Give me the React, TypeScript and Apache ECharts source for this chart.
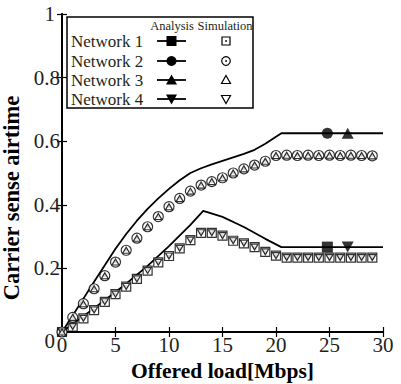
import React, { useEffect, useRef } from 'react';
import * as echarts from 'echarts';

// Offered load (Mbps) of simulation points
const simLoad = [0, 1, 2, 3, 4, 5, 6, 7, 8, 9, 10, 11, 12, 13, 14, 15, 16, 17, 18, 19, 20, 21, 22, 23, 24, 25, 26, 27, 28, 29];

// Simulation: networks 2 & 3 (upper) and networks 1 & 4 (lower)
const net2Sim = [0, 0.046, 0.089, 0.136, 0.177, 0.22, 0.257, 0.295, 0.331, 0.363, 0.394, 0.42, 0.443, 0.462, 0.473, 0.485, 0.5, 0.513, 0.525, 0.537, 0.555, 0.556, 0.555, 0.556, 0.555, 0.556, 0.555, 0.556, 0.555, 0.554];
const net3Sim = [0, 0.046, 0.089, 0.136, 0.177, 0.22, 0.257, 0.295, 0.331, 0.363, 0.394, 0.42, 0.443, 0.462, 0.473, 0.485, 0.5, 0.513, 0.525, 0.537, 0.555, 0.556, 0.555, 0.556, 0.555, 0.556, 0.555, 0.556, 0.555, 0.554];
const net1Sim = [0, 0.017, 0.043, 0.069, 0.095, 0.119, 0.143, 0.167, 0.193, 0.219, 0.239, 0.263, 0.289, 0.312, 0.312, 0.303, 0.287, 0.279, 0.267, 0.252, 0.24, 0.234, 0.234, 0.234, 0.234, 0.234, 0.234, 0.234, 0.234, 0.234];
const net4Sim = [0, 0.017, 0.043, 0.069, 0.095, 0.119, 0.143, 0.167, 0.193, 0.219, 0.239, 0.263, 0.289, 0.312, 0.312, 0.303, 0.287, 0.279, 0.267, 0.252, 0.24, 0.234, 0.234, 0.234, 0.234, 0.234, 0.234, 0.234, 0.234, 0.234];

// Analysis curves
const upperLoad = [0, 1, 2, 3, 4, 5, 6, 7, 8, 9, 10, 11, 12, 13, 14, 15, 16, 17, 18, 19, 20.5, 30];
const upperAnalysis = [0, 0.052, 0.105, 0.158, 0.21, 0.262, 0.308, 0.35, 0.387, 0.42, 0.45, 0.477, 0.5, 0.515, 0.527, 0.538, 0.549, 0.56, 0.573, 0.592, 0.625, 0.625];
const lowerLoad = [0, 2, 4, 6, 8, 10, 12, 13.2, 15, 17, 19, 20.5, 30];
const lowerAnalysis = [0, 0.05, 0.1, 0.152, 0.208, 0.27, 0.337, 0.381, 0.362, 0.33, 0.293, 0.267, 0.267];

// Single analysis markers placed on the curves
const net1Mark = [24.8, 0.267];
const net2Mark = [24.8, 0.625];
const net3Mark = [26.7, 0.625];
const net4Mark = [26.7, 0.267];

const networkNames = ['Network 1', 'Network 2', 'Network 3', 'Network 4'];

const FONT = '"Liberation Serif", "Times New Roman", Times, serif';
const TXT = '#231f20';

const SQ_DOT = 'path://M0,0H10V10H0ZM4.2,4.2H5.8V5.8H4.2Z';
const CI_DOT = 'path://M10,5A5,5,0,1,1,0,5A5,5,0,1,1,10,5ZM5.8,5A0.8,0.8,0,1,1,4.2,5A0.8,0.8,0,1,1,5.8,5Z';
const TRI_UP = 'path://M5,0L10,9L0,9Z';
const TRI_DN = 'path://M0,0L10,0L5,9Z';

const pairs = (xs: number[], ys: number[]) => xs.map((x, i) => [x, ys[i]]);

function legendGraphic() {
  const rows = [41, 61, 80, 99];
  const children: any[] = [
    { type: 'rect', shape: { x: 67, y: 17, width: 186, height: 91 }, style: { fill: '#fff', stroke: '#000', lineWidth: 1.5 } },
    { type: 'text', x: 172, y: 26, style: { text: 'Analysis', fontFamily: FONT, fontSize: 12.5, fill: TXT, align: 'center', verticalAlign: 'middle' } },
    { type: 'text', x: 225, y: 26, style: { text: 'Simulation', fontFamily: FONT, fontSize: 12.5, fill: TXT, align: 'center', verticalAlign: 'middle' } },
  ];
  const ax = 171.5;
  const sx = 226;
  rows.forEach((y, i) => {
    children.push({ type: 'text', x: 71, y, style: { text: networkNames[i], fontFamily: FONT, fontSize: 17, fill: TXT, align: 'left', verticalAlign: 'middle' } });
    children.push({ type: 'line', shape: { x1: 157, y1: y, x2: 186, y2: y }, style: { stroke: '#000', lineWidth: 1.8 } });
    const fill = { fill: '#000' };
    const hollow = { fill: '#fff', stroke: '#000', lineWidth: 1.2 };
    if (i === 0) {
      children.push({ type: 'rect', shape: { x: ax - 5, y: y - 5, width: 10, height: 10 }, style: fill });
      children.push({ type: 'rect', shape: { x: sx - 4, y: y - 4, width: 8, height: 8 }, style: hollow });
      children.push({ type: 'circle', shape: { cx: sx, cy: y, r: 0.9 }, style: fill });
    } else if (i === 1) {
      children.push({ type: 'circle', shape: { cx: ax, cy: y, r: 5 }, style: fill });
      children.push({ type: 'circle', shape: { cx: sx, cy: y, r: 4.3 }, style: hollow });
      children.push({ type: 'circle', shape: { cx: sx, cy: y, r: 0.9 }, style: fill });
    } else if (i === 2) {
      children.push({ type: 'polygon', shape: { points: [[ax, y - 5.5], [ax + 5.5, y + 4.5], [ax - 5.5, y + 4.5]] }, style: fill });
      children.push({ type: 'polygon', shape: { points: [[sx, y - 4.5], [sx + 4.5, y + 3.5], [sx - 4.5, y + 3.5]] }, style: hollow });
    } else {
      children.push({ type: 'polygon', shape: { points: [[ax - 5.5, y - 4.5], [ax + 5.5, y - 4.5], [ax, y + 5.5]] }, style: fill });
      children.push({ type: 'polygon', shape: { points: [[sx - 4.5, y - 3.5], [sx + 4.5, y - 3.5], [sx, y + 4.5]] }, style: hollow });
    }
  });
  return [{ type: 'group', children }];
}

export default function App() {
  const ref = useRef<HTMLDivElement>(null);
  useEffect(() => {
    const chart = echarts.init(ref.current!, null, { renderer: 'svg' });
    const axisCommon = {
      type: 'value' as const,
      axisLine: { show: true, lineStyle: { color: '#000', width: 2 } },
      axisTick: { show: true, inside: true, length: 5, lineStyle: { color: '#000', width: 1.2 } },
      splitLine: { show: false },
    };
    const hollow = { color: '#fff', borderColor: '#000', borderWidth: 1.2 };
    const option: any = {
      animation: false,
      backgroundColor: '#fff',
      textStyle: { fontFamily: FONT },
      grid: { left: 62, right: 18, top: 14, bottom: 52, containLabel: false, outerBoundsMode: 'none' },
      xAxis: [
        {
          ...axisCommon,
          min: 0, max: 30, interval: 5,
          position: 'bottom',
          name: 'Offered load[Mbps]',
          nameLocation: 'middle',
          nameGap: 24,
          nameTextStyle: { fontFamily: FONT, fontSize: 21.5, fontWeight: 'bold', color: '#000' },
          axisLabel: { fontFamily: FONT, fontSize: 21, color: TXT, margin: 2 },
        },
        {
          ...axisCommon,
          min: 0, max: 30, interval: 5,
          position: 'top',
          axisLabel: { show: false },
        },
      ],
      yAxis: [
        {
          ...axisCommon,
          min: 0, max: 1, interval: 0.2,
          position: 'left',
          name: 'Carrier sense airtime',
          nameLocation: 'middle',
          nameRotate: 90,
          nameGap: 20,
          nameTextStyle: { fontFamily: FONT, fontSize: 22.5, fontWeight: 'bold', color: '#000', padding: [0, 50, 0, 0] },
          axisLabel: {
            fontFamily: FONT, fontSize: 21, color: TXT, margin: 2,
            formatter: (v: number) => (v === 0 ? '{z|0}' : v === 1 ? '{o|1}' : String(Math.round(v * 10) / 10)),
            rich: {
              z: { fontFamily: FONT, fontSize: 21, color: TXT, padding: [18, 5, 0, 0] },
              o: { fontFamily: FONT, fontSize: 21, color: TXT, padding: [0, 5, 0, 0] },
            },
          },
        },
        {
          ...axisCommon,
          min: 0, max: 1, interval: 0.2,
          position: 'right',
          axisLabel: { show: false },
        },
      ],
      graphic: legendGraphic(),
      series: [
        { type: 'line', data: pairs(upperLoad, upperAnalysis), showSymbol: false, symbol: 'none', lineStyle: { color: '#000', width: 1.8 }, z: 3 },
        { type: 'line', data: pairs(lowerLoad, lowerAnalysis), showSymbol: false, symbol: 'none', lineStyle: { color: '#000', width: 1.8 }, z: 3 },
        { type: 'scatter', data: [net1Mark], symbol: 'rect', symbolSize: 11, itemStyle: { color: '#000' }, z: 4 },
        { type: 'scatter', data: [net2Mark], symbol: 'circle', symbolSize: 11, itemStyle: { color: '#000' }, z: 4 },
        { type: 'scatter', data: [net3Mark], symbol: 'triangle', symbolSize: [12, 11], itemStyle: { color: '#000' }, z: 4 },
        { type: 'scatter', data: [net4Mark], symbol: TRI_DN, symbolSize: [12, 11], itemStyle: { color: '#000' }, z: 4 },
        { type: 'scatter', data: pairs(simLoad, net1Sim), symbol: SQ_DOT, symbolSize: 9, itemStyle: hollow, z: 5 },
        { type: 'scatter', data: pairs(simLoad, net4Sim), symbol: TRI_DN, symbolSize: [7, 6], itemStyle: hollow, z: 6 },
        { type: 'scatter', data: pairs(simLoad, net2Sim), symbol: CI_DOT, symbolSize: 10, itemStyle: hollow, z: 5 },
        { type: 'scatter', data: pairs(simLoad, net3Sim), symbol: TRI_UP, symbolSize: [7, 6], itemStyle: hollow, z: 6 },
      ],
    };
    chart.setOption(option);
    return () => chart.dispose();
  }, []);
  return <div ref={ref} style={{ position: 'fixed', left: 0, top: 0, width: 401, height: 384 }} />;
}
